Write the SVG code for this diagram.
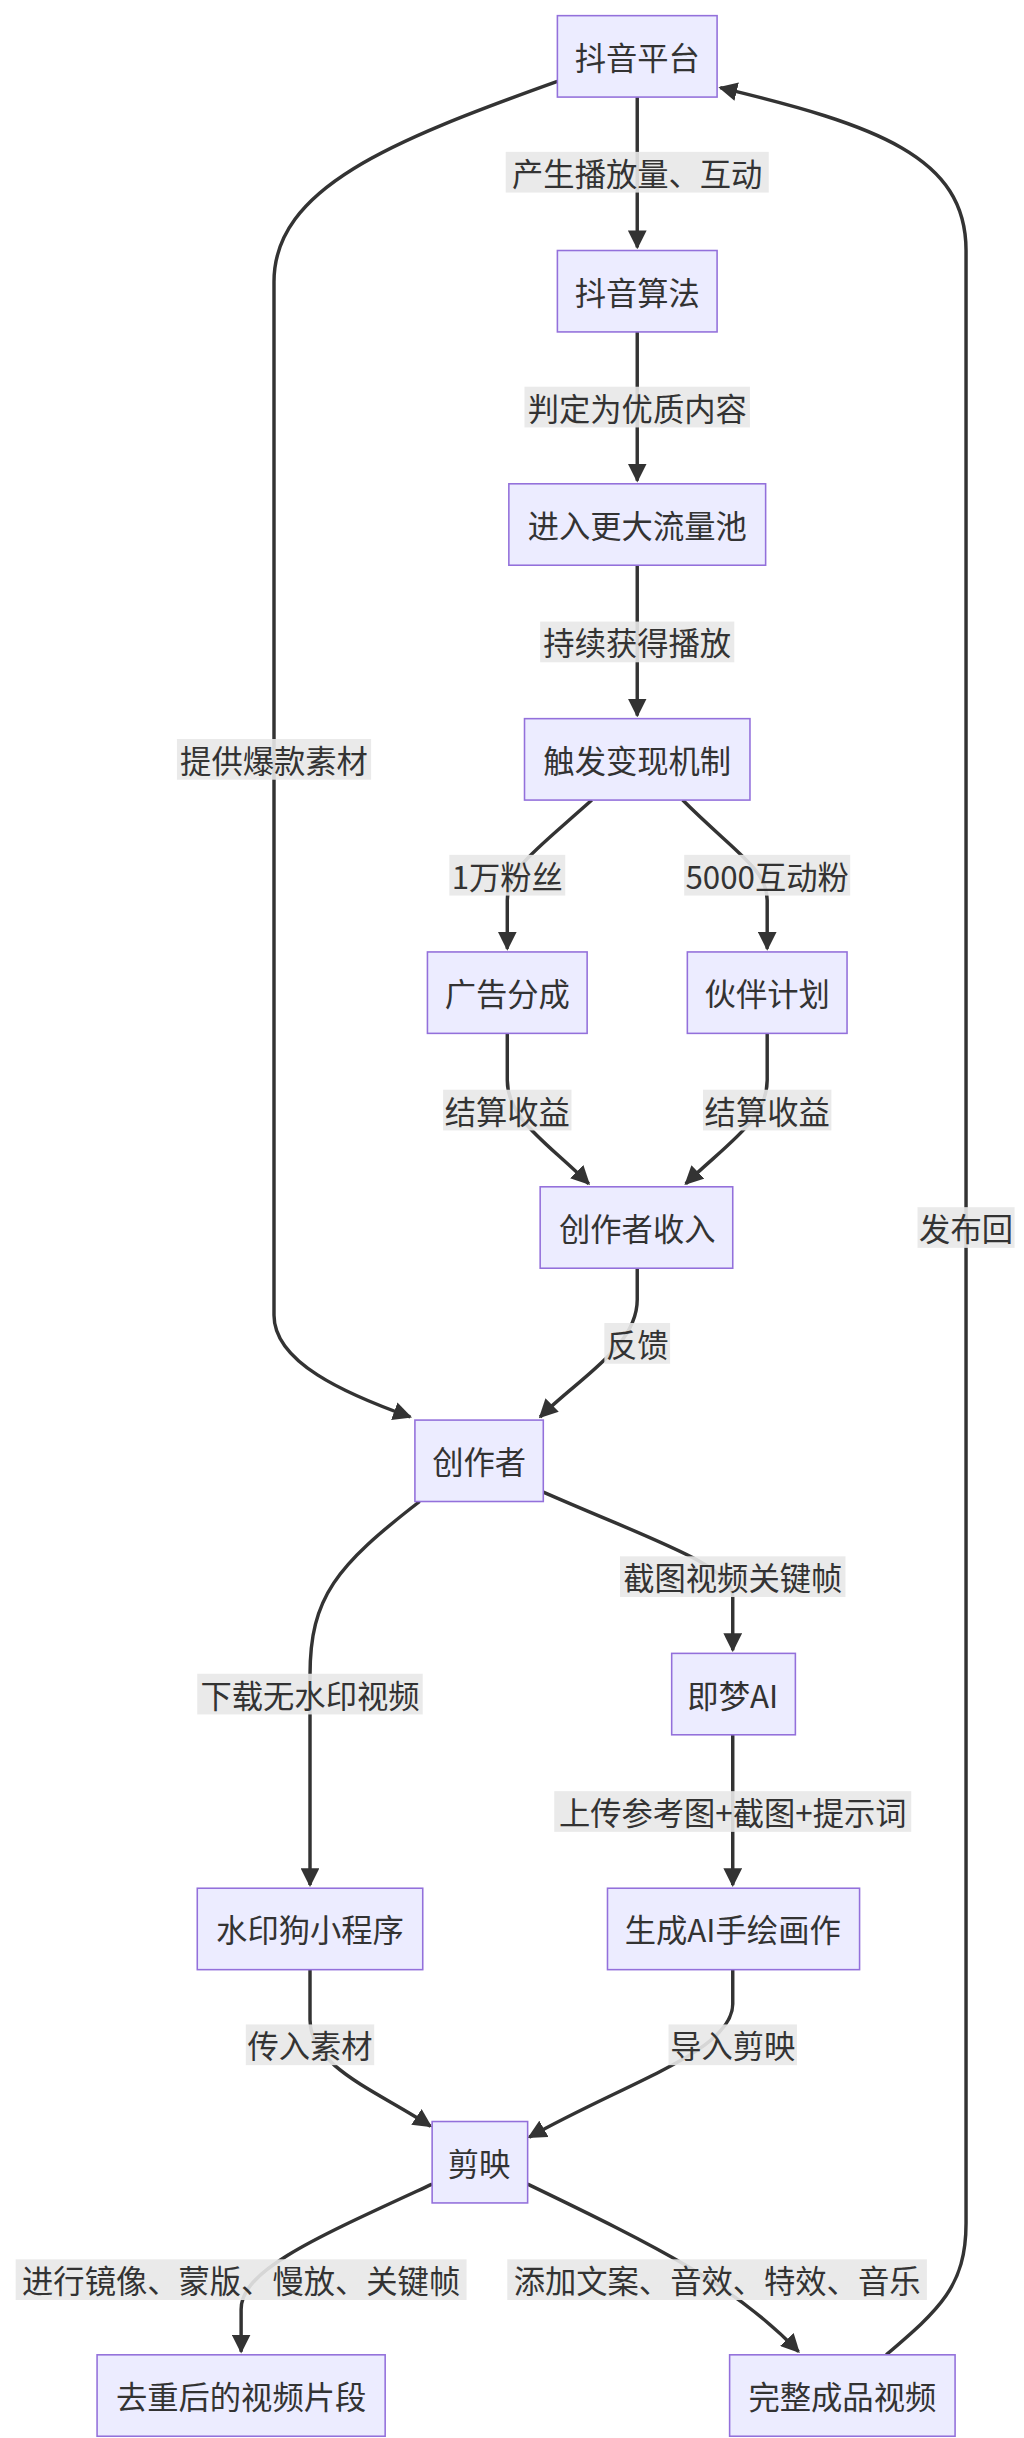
<svg xmlns="http://www.w3.org/2000/svg" width="1024" height="2438" viewBox="0 0 1024 2438">
<style>
.n rect{fill:#ECECFF;stroke:#9370DB;stroke-width:1}
.n text,.l text{font-family:"Noto Sans CJK SC","Liberation Sans",sans-serif;font-size:20px;fill:#333;text-anchor:middle;dominant-baseline:central}
.l rect{fill:#e8e8e8;opacity:0.9}
.e path{fill:none;stroke:#333;stroke-width:2.2;marker-end:url(#a)}
</style>
<defs><marker id="a" viewBox="0 0 10 10" refX="9" refY="5" markerWidth="12" markerHeight="12" markerUnits="userSpaceOnUse" orient="auto"><path d="M0,0L10,5L0,10z" fill="#333" stroke="none"/></marker></defs>
<rect width="1024" height="2438" fill="#fff"/>
<g transform="scale(1.5657)">
<g class="e" id="edges">
<path d="M356,52 C250,90 175,120 175,180 L175,840 C175,870 220,890 262,905"/>
<path d="M566,1504 C600,1475 617,1460 617,1420 L617,160 C617,100 560,80 460,56"/>
<path d="M407,62 L407,158"/>
<path d="M407,212 L407,307"/>
<path d="M407,361 L407,457"/>
<path d="M378,511 C340,545 324,555 324,575 L324,606"/>
<path d="M436,511 C470,545 490,555 490,575 L490,606"/>
<path d="M324,660 L324,690 C324,715 350,730 376,756"/>
<path d="M490,660 L490,690 C490,715 465,730 438,756"/>
<path d="M407,810 L407,830 C407,860 370,880 345,905"/>
<path d="M347,953 C420,985 468,1000 468,1020 L468,1054"/>
<path d="M268,959 C215,1000 198,1020 198,1070 L198,1204"/>
<path d="M468,1108 L468,1204"/>
<path d="M198,1258 L198,1290 C198,1320 240,1335 275,1358"/>
<path d="M468,1258 L468,1280 C468,1310 400,1330 338,1365"/>
<path d="M276,1395 C200,1430 154,1450 154,1475 L154,1502"/>
<path d="M337,1395 C420,1435 470,1460 510,1502"/>
</g>
<g class="l" id="labels">
<g><rect x="323" y="97" width="168" height="26"/><text x="407" y="110">产生播放量、互动</text></g>
<g><rect x="335" y="247" width="144" height="26"/><text x="407" y="260">判定为优质内容</text></g>
<g><rect x="345" y="397" width="124" height="26"/><text x="407" y="410">持续获得播放</text></g>
<g><rect x="113" y="472" width="124" height="26"/><text x="175" y="485">提供爆款素材</text></g>
<g><rect x="287" y="546" width="74" height="26"/><text x="324" y="559">1万粉丝</text></g>
<g><rect x="437" y="546" width="106" height="26"/><text x="490" y="559">5000互动粉</text></g>
<g><rect x="283" y="696" width="82" height="26"/><text x="324" y="709">结算收益</text></g>
<g><rect x="449" y="696" width="82" height="26"/><text x="490" y="709">结算收益</text></g>
<g><rect x="386" y="845" width="42" height="26"/><text x="407" y="858">反馈</text></g>
<g><rect x="396" y="994" width="144" height="26"/><text x="468" y="1007">截图视频关键帧</text></g>
<g><rect x="126" y="1069" width="144" height="26"/><text x="198" y="1082">下载无水印视频</text></g>
<g><rect x="354" y="1144" width="228" height="26"/><text x="468" y="1157">上传参考图+截图+提示词</text></g>
<g><rect x="157" y="1293" width="82" height="26"/><text x="198" y="1306">传入素材</text></g>
<g><rect x="427" y="1293" width="82" height="26"/><text x="468" y="1306">导入剪映</text></g>
<g><rect x="10" y="1443" width="288" height="26"/><text x="154" y="1456">进行镜像、蒙版、慢放、关键帧</text></g>
<g><rect x="324" y="1443" width="268" height="26"/><text x="458" y="1456">添加文案、音效、特效、音乐</text></g>
<g><rect x="586" y="771" width="62" height="26"/><text x="617" y="784">发布回</text></g>
</g>
<g class="n" id="n1"><rect x="356" y="10" width="102" height="52"/><text x="407" y="36">抖音平台</text></g>
<g class="n" id="n2"><rect x="356" y="160" width="102" height="52"/><text x="407" y="186">抖音算法</text></g>
<g class="n" id="n3"><rect x="325" y="309" width="164" height="52"/><text x="407" y="335">进入更大流量池</text></g>
<g class="n" id="n4"><rect x="335" y="459" width="144" height="52"/><text x="407" y="485">触发变现机制</text></g>
<g class="n" id="n5"><rect x="273" y="608" width="102" height="52"/><text x="324" y="634">广告分成</text></g>
<g class="n" id="n6"><rect x="439" y="608" width="102" height="52"/><text x="490" y="634">伙伴计划</text></g>
<g class="n" id="n7"><rect x="345" y="758" width="123" height="52"/><text x="407" y="784">创作者收入</text></g>
<g class="n" id="n8"><rect x="265" y="907" width="82" height="52"/><text x="306" y="933">创作者</text></g>
<g class="n" id="n9"><rect x="429" y="1056" width="79" height="52"/><text x="468" y="1082">即梦AI</text></g>
<g class="n" id="n10"><rect x="126" y="1206" width="144" height="52"/><text x="198" y="1232">水印狗小程序</text></g>
<g class="n" id="n11"><rect x="388" y="1206" width="161" height="52"/><text x="468" y="1232">生成AI手绘画作</text></g>
<g class="n" id="n12"><rect x="276" y="1355" width="61" height="52"/><text x="306" y="1381">剪映</text></g>
<g class="n" id="n13"><rect x="62" y="1504" width="184" height="52"/><text x="154" y="1530">去重后的视频片段</text></g>
<g class="n" id="n14"><rect x="466" y="1504" width="144" height="52"/><text x="538" y="1530">完整成品视频</text></g>
</g>
</svg>
